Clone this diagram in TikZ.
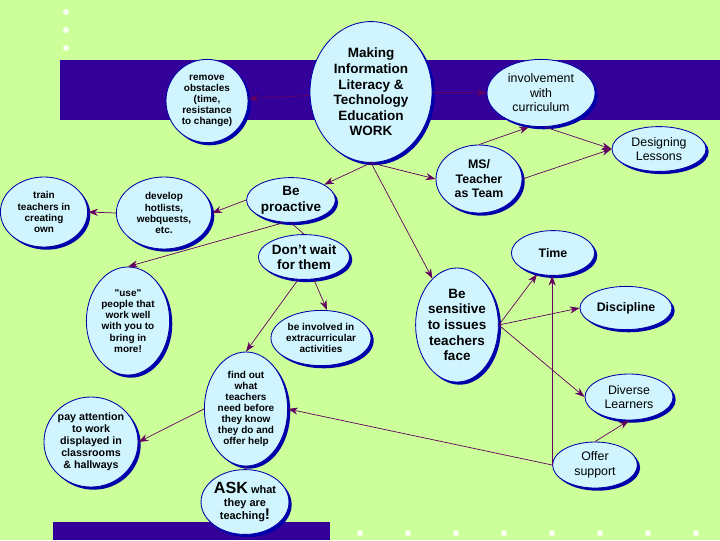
\documentclass[tikz,border=0pt]{standalone}
\usepackage{fontspec}
\setmainfont{Liberation Sans}
\usepackage{tikz}
\usetikzlibrary{shapes.geometric, arrows.meta, positioning, shadows}
\definecolor{mygreen}{RGB}{204,255,153}
\definecolor{myband}{RGB}{51,0,153}
\definecolor{mycyan}{RGB}{208,245,255}
\definecolor{myblue}{RGB}{0,0,170}
\definecolor{mypurple}{RGB}{100,0,95}
\tikzset{
  bubble/.style={ellipse, draw=myblue, fill=mycyan, inner sep=0pt,
    align=center, line width=0.6pt, text=black,
    drop shadow={shadow xshift=1.9pt, shadow yshift=-1.9pt, fill=myblue, opacity=1}},
  bigtxt/.style={font=\fontsize{9.6}{11.1}\selectfont\bfseries},
  midtxt/.style={font=\fontsize{8.8}{10.3}\selectfont\bfseries},
  lighttxt/.style={font=\fontsize{8.8}{10.3}\selectfont},
  smalltxt/.style={font=\fontsize{7.1}{7.9}\selectfont\bfseries},
  arrow/.style={-{Stealth[length=7pt,width=5pt]}, line width=0.5pt, color=mypurple},
  line/.style={line width=0.5pt, color=mypurple}
}

\begin{document}
\begin{tikzpicture}[x=0.025cm, y=-0.025cm,
  dot/.style={circle, fill=white!85!mygreen, inner sep=0pt, minimum size=0.15cm}]

  % Background and bands
  \fill[mygreen] (0,0) rectangle (720,540);
  \useasboundingbox (0,0) rectangle (720,540);
  \fill[myband] (60,60) rectangle (720,120);
  \fill[myband] (53,522) rectangle (330,540);
  \foreach \y in {12,30,48} \node[dot] at (66,\y) {};
  \foreach \x in {360,408,...,696} \node[dot] at (\x,533) {};

  % Center node
  \node[bubble, bigtxt, minimum width=3.05cm, minimum height=3.52cm] (center) at (371,92)
    {Making\\Information\\Literacy \&\\Technology\\Education\\WORK};

  % Upper nodes
  \node[bubble, smalltxt, minimum width=2.05cm, minimum height=2.08cm] (remove) at (207,101)
    {remove\\obstacles\\(time,\\resistance\\to change)};
  \node[bubble, lighttxt, minimum width=2.7cm, minimum height=1.68cm] (involve) at (541,93)
    {involvement\\with\\curriculum};
  \node[bubble, lighttxt, minimum width=2.35cm, minimum height=1.12cm] (design) at (659,149)
    {Designing\\Lessons};
  \node[bubble, midtxt, minimum width=2.15cm, minimum height=1.7cm] (team) at (479,179)
    {MS/\\Teacher\\as Team};

  % Left branch
  \node[bubble, bigtxt, minimum width=2.22cm, minimum height=1.12cm] (proactive) at (291,200)
    {Be\\proactive};
  \node[bubble, smalltxt, minimum width=2.38cm, minimum height=1.8cm] (hotlists) at (164,213)
    {develop\\hotlists,\\webquests,\\etc.};
  \node[bubble, smalltxt, minimum width=2.18cm, minimum height=1.75cm] (train) at (44,212)
    {train\\teachers in\\creating\\own};
  \node[bubble, bigtxt, minimum width=2.1cm, minimum height=1.12cm] (dontwait) at (304,257)
    {Don't wait\\for them};
  \node[bubble, smalltxt, minimum width=2.08cm, minimum height=2.7cm] (people) at (128,321)
    {\textquotedbl use\textquotedbl\\people that\\work well\\with you to\\bring in\\more!};
  \node[bubble, smalltxt, minimum width=2.5cm, minimum height=1.38cm] (extra) at (321,338)
    {be involved in\\extracurricular\\activities};
  \node[bubble, smalltxt, minimum width=2.08cm, minimum height=2.85cm] (findout) at (246,409)
    {find out\\what\\teachers\\need before\\they know\\they do and\\offer help};
  \node[bubble, smalltxt, font=\fontsize{7.6}{8.6}\selectfont\bfseries,
    minimum width=2.3cm, minimum height=2.25cm] (attention) at (91,442)
    {pay attention\\to work\\displayed in\\classrooms\\\& hallways};
  \node[bubble, smalltxt, font=\fontsize{7.8}{9.4}\selectfont\bfseries,
    minimum width=2.1cm, minimum height=1.62cm] (ask) at (245,502)
    {{\fontsize{11.5}{12}\selectfont ASK} what\\they are\\teaching{\fontsize{11}{12}\selectfont !}};

  % Right branch
  \node[bubble, bigtxt, minimum width=2.02cm, minimum height=2.85cm] (sensitive) at (457,325)
    {Be\\sensitive\\to issues\\teachers\\face};
  \node[bubble, midtxt, minimum width=2.08cm, minimum height=1.12cm] (time) at (553,253) {Time};
  \node[bubble, midtxt, minimum width=2.3cm, minimum height=1.08cm] (discipline) at (626,308) {Discipline};
  \node[bubble, lighttxt, minimum width=2.2cm, minimum height=1.15cm] (diverse) at (629,397)
    {Diverse\\Learners};
  \node[bubble, lighttxt, minimum width=2.12cm, minimum height=1.15cm] (offer) at (595,465)
    {Offer\\support};

  % Connections
  \draw[arrow] (center) -- (remove);
  \draw[arrow] (center) -- (involve);
  \draw[arrow] (team.north) -- ([xshift=-0.3cm]involve.south);
  \draw[arrow] ([xshift=0.1cm]involve.south) -- (design.west);
  \draw[arrow] (team.east) -- (design.west);
  \draw[arrow] (center.south) -- (team.west);
  \draw[arrow] (center.south) -- (proactive);
  \draw[arrow] (center.south) -- (sensitive);
  \draw[arrow] (proactive.west) -- (hotlists.east);
  \draw[arrow] (hotlists.west) -- (train.east);
  \draw[arrow] ([xshift=-0.2cm]proactive.south) -- (people.north);
  \draw[line] (proactive.south) -- (dontwait.north);
  \draw[arrow] ([xshift=-0.15cm]dontwait.south) -- (findout.north);
  \draw[arrow] ([xshift=0.25cm]dontwait.south) -- ([xshift=0.15cm]extra.north);
  \draw[arrow] (findout.west) -- (attention.east);
  \draw[line] (findout.south) -- (ask.north);
  \draw[arrow] (sensitive.east) -- (time);
  \draw[arrow] (sensitive.east) -- (discipline.west);
  \draw[arrow] (sensitive.east) -- (diverse.west);
  \draw[arrow] (offer.west) -- (offer.west |- time.south);
  \draw[arrow] (offer.north) -- (diverse.south);
  \draw[arrow] (offer.west) -- (findout.east);

\end{tikzpicture}
\end{document}
